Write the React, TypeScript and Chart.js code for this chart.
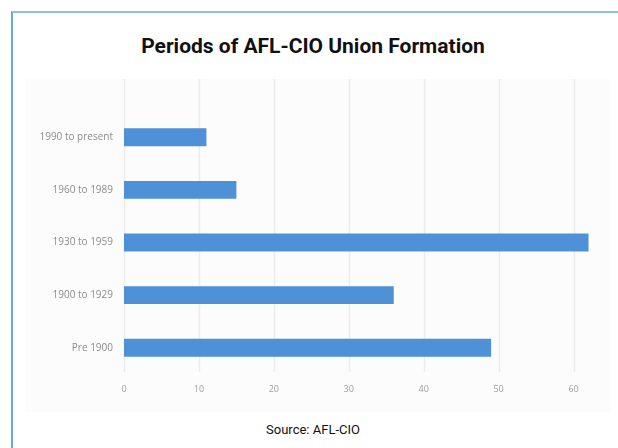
import React, { useEffect, useRef } from "react";
import { Chart, registerables } from "chart.js";

Chart.register(...registerables);

const categories = ["1990 to present", "1960 to 1989", "1930 to 1959", "1900 to 1929", "Pre 1900"];
const unionCounts = [11, 15, 62, 36, 49];
const xTicks = [0, 10, 20, 30, 40, 50, 60];
const titleText = "Periods of AFL-CIO Union Formation";
const sourceText = "Source: AFL-CIO";

const gridPlugin = {
  id: "extGrid",
  beforeDatasetsDraw(chart: any) {
    const ctx = chart.ctx;
    const x = chart.scales.x;
    const area = chart.chartArea;
    ctx.save();
    ctx.strokeStyle = "#ececec";
    ctx.lineWidth = 1.5;
    xTicks.forEach((v) => {
      const px = Math.round(x.getPixelForValue(v)) + 0.5;
      ctx.beginPath();
      ctx.moveTo(px, 0);
      ctx.lineTo(px, area.bottom - 2);
      ctx.stroke();
    });
    ctx.restore();
  },
};

export default function App() {
  const ref = useRef<HTMLCanvasElement>(null);
  useEffect(() => {
    document.body.style.margin = "0";
    const chart = new Chart(ref.current!, {
      type: "bar",
      data: {
        labels: categories,
        datasets: [
          {
            data: unionCounts,
            backgroundColor: "#4f91d6",
            borderWidth: 0,
            barPercentage: 0.68,
            categoryPercentage: 0.5,
          },
        ],
      },
      options: {
        indexAxis: "y",
        animation: false,
        responsive: false,
        maintainAspectRatio: false,
        layout: { padding: { top: 32, left: 0, right: 2, bottom: 0 } },
        plugins: { legend: { display: false }, tooltip: { enabled: false } },
        scales: {
          x: {
            min: 0,
            max: 64.6,
            grid: { display: false, drawTicks: false },
            border: { display: false },
            afterBuildTicks: (s: any) => {
              s.ticks = xTicks.map((v) => ({ value: v }));
            },
            afterFit: (s: any) => {
              s.height = 38;
            },
            ticks: {
              padding: 10,
              color: "#a0a0a0",
              font: { family: "Open Sans", size: 9 },
            },
          },
          y: {
            grid: { display: false, drawTicks: false },
            border: { display: false },
            afterFit: (s: any) => {
              s.width = 99;
            },
            ticks: {
              padding: 11,
              color: "#8c8c8c",
              font: { family: "Open Sans", size: 10 },
            },
          },
        },
      },
      plugins: [gridPlugin],
    });
    return () => chart.destroy();
  }, []);

  return (
    <div style={{ position: "relative", width: 618, height: 448, background: "#fff", overflow: "hidden" }}>
      <div
        style={{
          position: "absolute",
          left: 11,
          top: 11,
          width: 620,
          height: 460,
          borderTop: "2px solid #8fc0ea",
          borderLeft: "2px solid #6aa7de",
          boxSizing: "border-box",
        }}
      />
      <div
        style={{
          position: "absolute",
          left: 0,
          width: 626,
          top: 31,
          textAlign: "center",
          fontFamily: "Roboto, 'Open Sans', sans-serif",
          fontWeight: 700,
          fontSize: 21,
          color: "#111",
          lineHeight: "30px",
        }}
      >
        {titleText}
      </div>
      <div style={{ position: "absolute", left: 25, top: 79, width: 585, height: 333, background: "#fcfcfc" }}>
        <canvas ref={ref} width={585} height={333} style={{ display: "block" }} />
      </div>
      <div
        style={{
          position: "absolute",
          left: 0,
          width: 626,
          top: 421,
          textAlign: "center",
          fontFamily: "Roboto, 'Open Sans', sans-serif",
          fontSize: 13,
          color: "#111",
          lineHeight: "18px",
        }}
      >
        {sourceText}
      </div>
    </div>
  );
}
